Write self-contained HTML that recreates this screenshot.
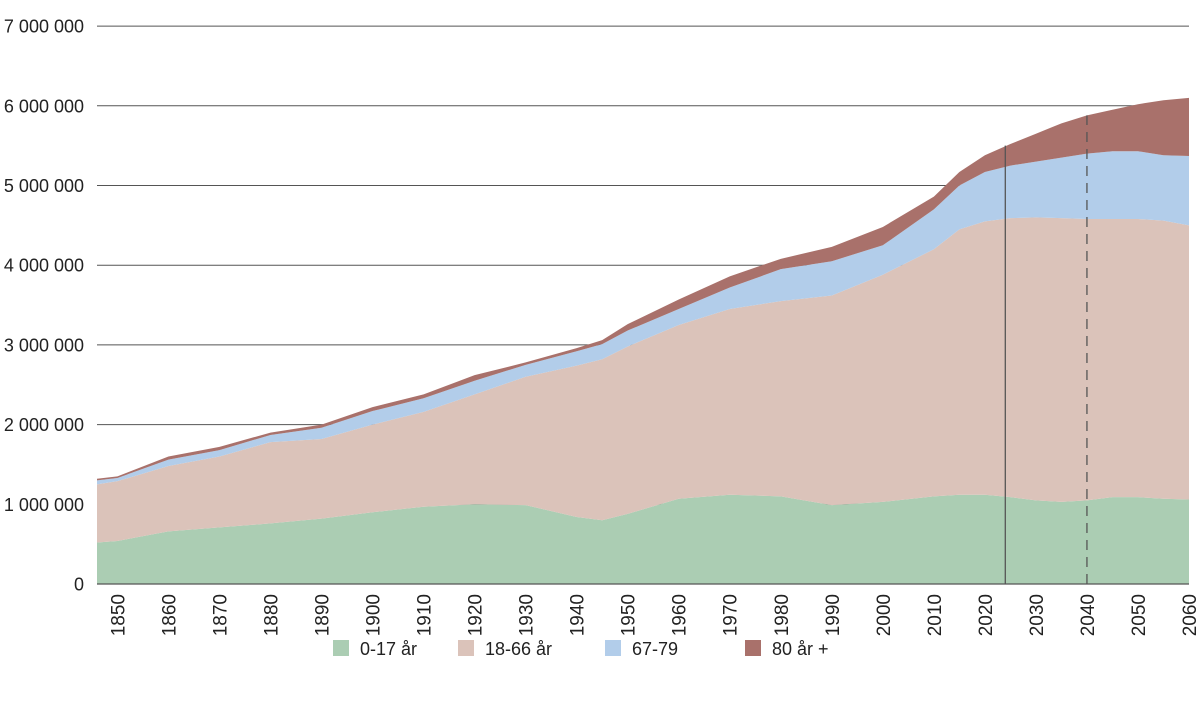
<!DOCTYPE html>
<html><head><meta charset="utf-8"><style>
body{margin:0;background:#fff;}
svg{display:block;font-family:"Liberation Sans",sans-serif;}
</style></head><body>
<svg id="chart" width="1200" height="703"></svg>
<script>
const years=[1846,1850,1860,1870,1880,1890,1900,1910,1920,1930,1940,1945,1950,1960,1970,1980,1990,2000,2010,2015,2020,2025,2030,2035,2040,2045,2050,2055,2060];
const age0_17=[520,540,660,710,760,820,900,970,1000,990,840,800,880,1070,1120,1100,990,1030,1100,1120,1120,1090,1050,1030,1050,1090,1090,1070,1060];
const age18_66=[730,750,820,890,1020,1000,1100,1190,1380,1610,1900,2020,2100,2180,2330,2450,2630,2850,3100,3330,3430,3500,3550,3560,3530,3490,3490,3490,3440];
const age67_79=[50,40,80,80,90,140,170,170,170,150,180,190,200,200,270,400,430,370,500,550,620,660,700,760,820,850,850,820,870];
const age80plus=[20,20,40,40,30,40,50,50,70,30,40,50,80,120,140,130,180,230,160,170,210,270,350,430,480,520,590,690,730];
const yTicks=[0,1000000,2000000,3000000,4000000,5000000,6000000,7000000];
const yTickLabels=["0","1 000 000","2 000 000","3 000 000","4 000 000","5 000 000","6 000 000","7 000 000"];
const xTicks=[1850,1860,1870,1880,1890,1900,1910,1920,1930,1940,1950,1960,1970,1980,1990,2000,2010,2020,2030,2040,2050,2060];
const seriesNames=["0-17 år","18-66 år","67-79","80 år +"];
const seriesColors=["#abcdb3","#dbc3ba","#b2cdea","#a9716b"];
const solidLineYear=2024, dashedLineYear=2040;

const NS="http://www.w3.org/2000/svg";
const svg=document.getElementById('chart');
const X0=97,X1=1189,Y0=584,YPER=79.7/1000000;
const xs=y=>X0+(y-1846)*(X1-X0)/(2060-1846);
const ys=v=>Y0-v*YPER;
function mk(t,a){const e=document.createElementNS(NS,t);for(const k in a)e.setAttribute(k,a[k]);svg.appendChild(e);return e;}

yTicks.forEach((v,i)=>{
  if(v>0){const g=mk('line',{x1:X0,x2:X1,y1:ys(v),y2:ys(v),stroke:'#555','stroke-width':1});
  
  }
  const t=mk('text',{x:84,y:ys(v)+6.5,'text-anchor':'end','font-size':18,fill:'#222'});
  t.textContent=yTickLabels[i];
  
  
});
const series=[age0_17,age18_66,age67_79,age80plus];
let base=years.map(()=>0);
series.forEach((s,si)=>{
  const top=base.map((b,i)=>b+s[i]*1000);
  let d='M'+years.map((y,i)=>xs(y)+','+ys(top[i])).join(' L');
  for(let i=years.length-1;i>=0;i--)d+=' L'+xs(years[i])+','+ys(base[i]);
  const p=mk('path',{d:d+' Z',fill:seriesColors[si]});
  
  
  base=top;
});
const sl=mk('line',{x1:xs(solidLineYear),x2:xs(solidLineYear),y1:Y0,y2:ys(5500000),stroke:'#555','stroke-width':1.3});


const dl=mk('line',{x1:xs(dashedLineYear),x2:xs(dashedLineYear),y1:Y0,y2:ys(5880000),stroke:'#555','stroke-width':1.3,'stroke-dasharray':'10,7'});


const ax=mk('line',{x1:X0,x2:X1,y1:Y0,y2:Y0,stroke:'#555','stroke-width':1.3});


xTicks.forEach(y=>{
  const x=xs(y);
  const t=mk('text',{x:0,y:0,'text-anchor':'end','font-size':19,fill:'#222',transform:`translate(${x+7},${Y0+10}) rotate(-90)`});
  t.textContent=y;
  
  
});
const lx=[333,458,605,745];
seriesNames.forEach((n,i)=>{
  const r=mk('rect',{x:lx[i],y:640,width:16,height:16,fill:seriesColors[i]});
  
  
  const t=mk('text',{x:lx[i]+27,y:655,'font-size':18,fill:'#222'});
  t.textContent=n;
  
  
});
</script>
</body></html>
